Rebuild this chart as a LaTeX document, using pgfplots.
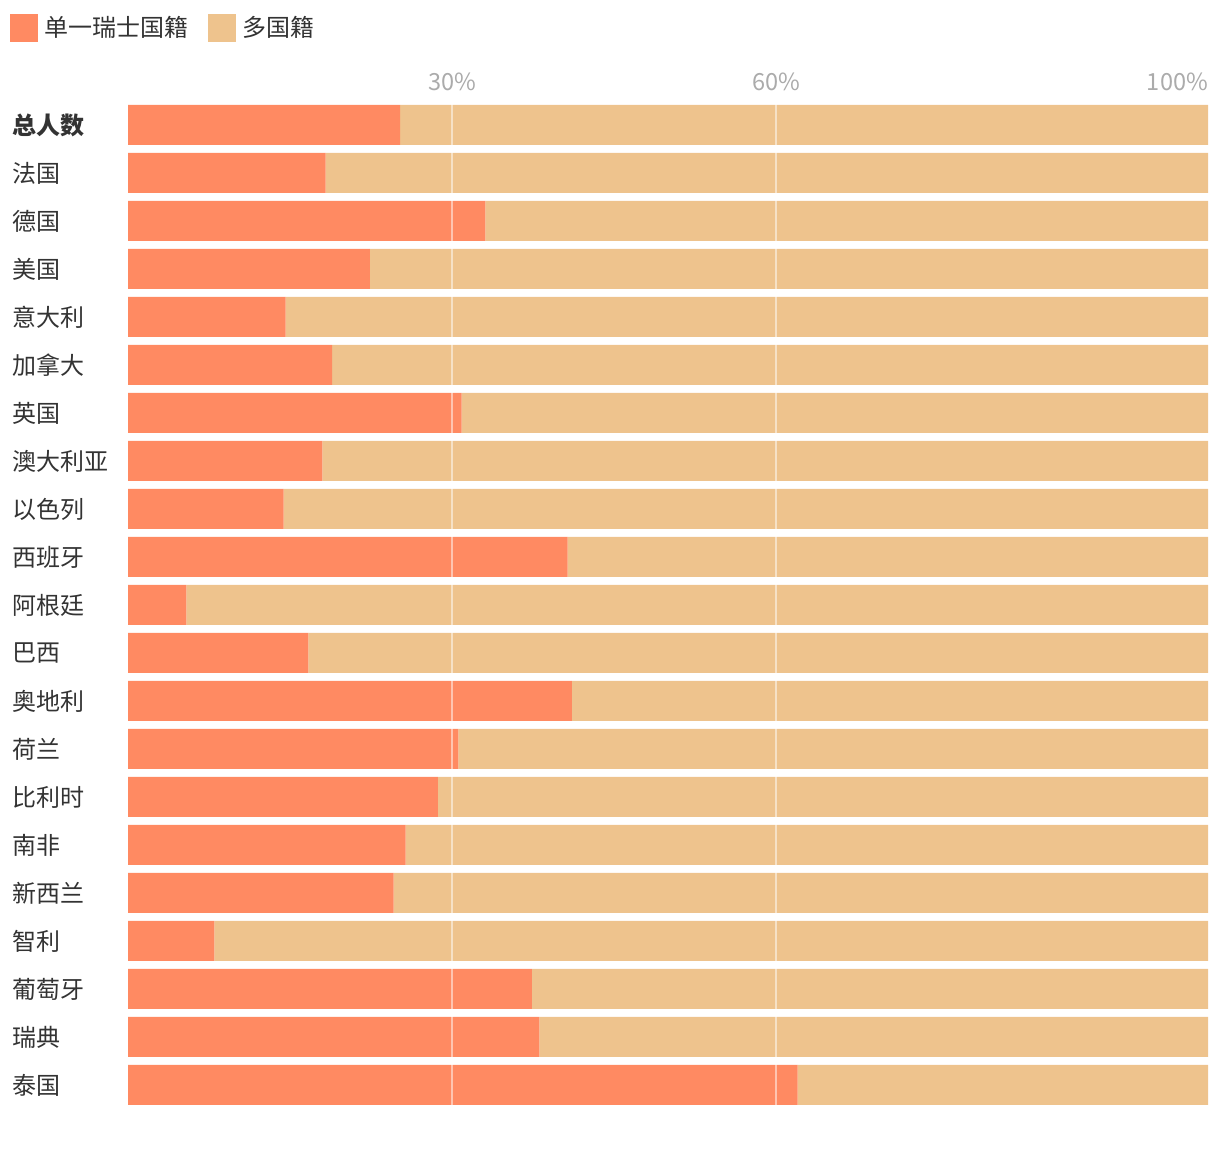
\documentclass[border=0pt]{standalone}
\usepackage{fontspec}
\setmainfont{Noto Sans CJK SC}
\usepackage{pgfplots}
\pgfplotsset{compat=1.18}
\definecolor{single}{HTML}{FF8A62}
\definecolor{multi}{HTML}{EEC38D}
\definecolor{lab}{HTML}{333333}
\definecolor{tickc}{HTML}{ABABAB}
\begin{document}
\begin{tikzpicture}
\path (0,0) rectangle (610pt,583pt);
\begin{axis}[
 at={(64pt,28.5pt)}, anchor=south west,
 scale only axis, width=540pt, height=504pt,
 xbar stacked, bar width=20pt,
 xmin=0, xmax=100, ymin=-0.5, ymax=20.5,
 axis line style={draw=none},
 major tick length=0pt,
 xtick={30,60}, xticklabels={30\%,60\%},
 extra x ticks={100}, extra x tick labels={\makebox[0pt][r]{100\%}},
 extra x tick style={grid=none},
 xticklabel pos=upper,
 xmajorgrids, major grid style={white, opacity=0.5, line width=1pt},
 axis on top,
 xticklabel style={font=\fontsize{11.8}{13}\selectfont, text=tickc, yshift=1.5pt},
 ytick={0,...,20},
 yticklabels={泰国,瑞典,葡萄牙,智利,新西兰,南非,比利时,荷兰,奥地利,巴西,阿根廷,西班牙,以色列,澳大利亚,英国,加拿大,意大利,美国,德国,法国,{\bfseries 总人数}},
 yticklabel style={anchor=west, xshift=-61.5pt, font=\fontsize{12}{14}\selectfont, text=lab},
 legend columns=2,
 legend style={draw=none, fill=none, at={(axis description cs:-0.1155,1.092)}, anchor=north west,
   font=\fontsize{12}{14}\selectfont, text=lab,
   /tikz/every even column/.append style={column sep=7.5pt}},
 legend image code/.code={\fill[#1] (0pt,-7pt) rectangle (14pt,7pt); \path (15.5pt,0pt);},
]
\addplot[fill=single, draw=none] coordinates {
(62.0,0) (38.1,1) (37.4,2) (8.0,3) (24.6,4) (25.7,5) (28.7,6) (30.6,7) (41.1,8) (16.7,9)
(5.4,10) (40.7,11) (14.4,12) (18.0,13) (30.9,14) (18.9,15) (14.6,16) (22.4,17) (33.1,18) (18.3,19) (25.2,20)};
\addplot[fill=multi, draw=none] coordinates {
(38.0,0) (61.9,1) (62.6,2) (92.0,3) (75.4,4) (74.3,5) (71.3,6) (69.4,7) (58.9,8) (83.3,9)
(94.6,10) (59.3,11) (85.6,12) (82.0,13) (69.1,14) (81.1,15) (85.4,16) (77.6,17) (66.9,18) (81.7,19) (74.8,20)};
\legend{单一瑞士国籍,多国籍}
\end{axis}
\end{tikzpicture}
\end{document}
